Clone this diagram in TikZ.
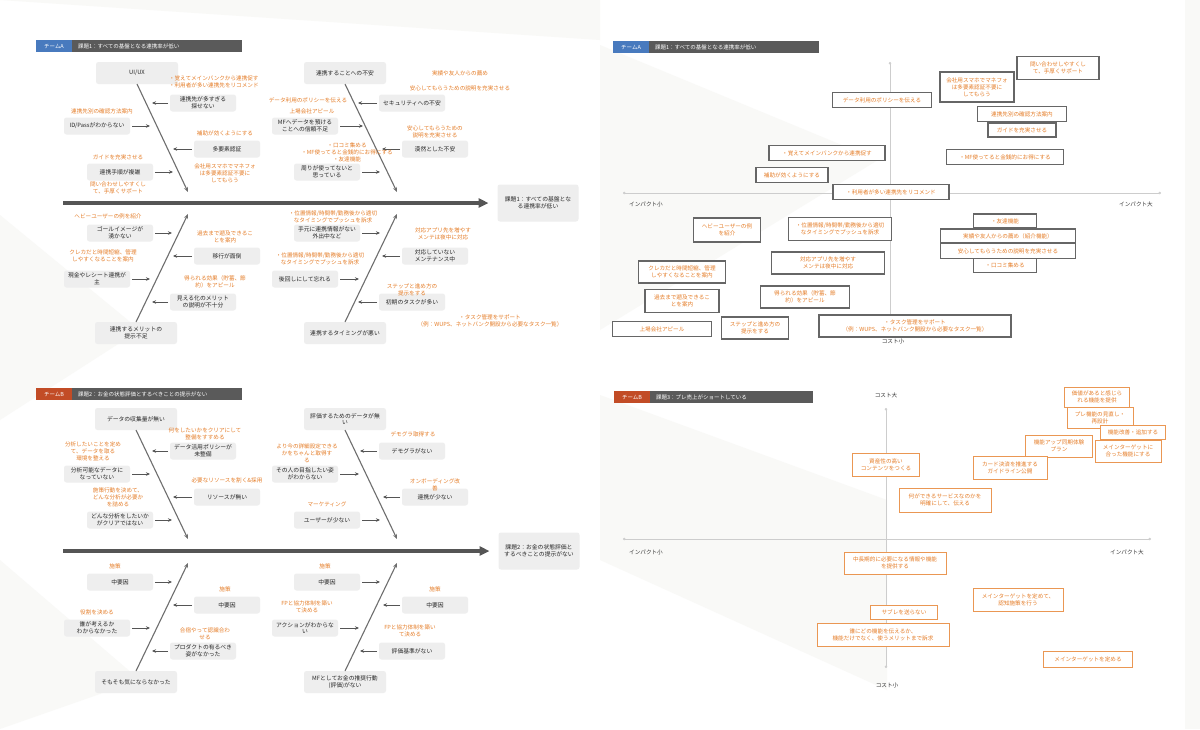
\documentclass[tikz,border=0pt]{standalone}
\usepackage{fontspec}
\setmainfont{Noto Sans CJK JP}
\usetikzlibrary{arrows.meta,positioning}
\definecolor{memoc}{RGB}{229,125,40}
\definecolor{boxc}{RGB}{238,238,238}
\definecolor{bonec}{RGB}{110,110,110}
\definecolor{spinec}{RGB}{85,85,85}
\definecolor{tagblue}{RGB}{72,122,190}
\definecolor{tagred}{RGB}{194,76,38}
\definecolor{barc}{RGB}{90,90,90}
\definecolor{bgc}{RGB}{249,249,247}
\definecolor{axisc}{RGB}{205,205,205}

\begin{document}
\begin{tikzpicture}[x=1pt,y=-1pt,
every node/.style={inner sep=1pt,outer sep=0pt},
cause/.style={fill=boxc,rounded corners=2.5pt,align=center,text=black!85,
  font=\fontsize{5.8}{6.8}\selectfont,minimum width=66pt,minimum height=17pt},
head/.style={cause,minimum width=82pt,minimum height=22pt},
effect/.style={cause,minimum width=81pt,minimum height=37pt},
memo/.style={text=memoc,align=center,font=\fontsize{5.6}{7}\selectfont},
tag/.style={minimum width=36pt,minimum height=12pt,text=white,font=\fontsize{5.5}{6}\selectfont},
hbar/.style={fill=barc,anchor=west,minimum height=12pt,text=white,align=left,
  font=\fontsize{5.5}{6}\selectfont,inner xsep=6pt},
spine/.style={line width=3.2pt,spinec,-{Triangle[length=10pt,width=9pt]},shorten >=9pt},
bone/.style={line width=1.1pt,bonec,-{Stealth[length=5pt,width=4pt]}},
arr/.style={line width=0.9pt,spinec,-{Stealth[length=4pt,width=3.5pt]},shorten <=2pt},
qbox/.style={draw=black!60,line width=1.3pt,fill=white,text=memoc,align=center,
  font=\fontsize{5.6}{7}\selectfont},
pbox/.style={draw=memoc!80,line width=0.8pt,fill=white,text=memoc,align=center,
  font=\fontsize{5.6}{7}\selectfont},
axis/.style={axisc,line width=0.6pt,{Circle[length=2.5pt]}-{Circle[length=2.5pt]}},
axlab/.style={font=\fontsize{5.6}{6}\selectfont,text=black!80}]

\useasboundingbox (0,0) rectangle (1200,729);
\fill[white] (0,0) rectangle (1200,729);
\fill[bgc] (0,0) -- (600,40) -- (600,0) -- cycle;
\fill[bgc] (0,215) -- (140,330) -- (0,420) -- cycle;
\fill[bgc] (0,560) -- (140,680) -- (0,729) -- cycle;
\fill[bgc] (600,45) -- (878,160) -- (600,330) -- cycle;
\fill[bgc] (600,395) -- (887,500) -- (887,690) -- (600,560) -- cycle;
\fill[bgc] (1185,0) rectangle (1200,729);

% headers
\node[tag,fill=tagblue] (T1) at (54,46) {チームA};
\node[hbar,text width=158pt] (H1) at (T1.east) {課題1：すべての基盤となる連携率が低い};
\node[tag,fill=tagred] (T2) at (54,394) {チームB};
\node[hbar,text width=158pt] (H2) at (T2.east) {課題2：お金の状態評価とするべきことの提示がない};
\node[tag,fill=tagblue] (T3) at (631,47) {チームA};
\node[hbar,text width=158pt] (H3) at (T3.east) {課題1：すべての基盤となる連携率が低い};
\node[tag,fill=tagred] (T4) at (632,397) {チームB};
\node[hbar,text width=151pt] (H4) at (T4.east) {課題3：プレ売上がショートしている};

% fishbone 1
\node[head] (F1a) at (137,73) {UI/UX};
\node[head] (F1b) at (345,73) {連携することへの不安};
\node[head] (F1c) at (136,333) {連携するメリットの\\提示不足};
\node[head] (F1d) at (345,333) {連携するタイミングが悪い};
\node[effect] (E1) at (538,203) {課題1：すべての基盤とな\\る連携率が低い};
\coordinate (S1) at (63,203);
\coordinate (J1a) at (188,192);
\coordinate (J1b) at (397,192);
\coordinate (J1c) at (188,214);
\coordinate (J1d) at (397,214);
\draw[spine] (S1) -- (E1.west);
\draw[bone] (F1a.south) -- (J1a);
\draw[bone] (F1b.south) -- (J1b);
\draw[bone] (F1c.north) -- (J1c);
\draw[bone] (F1d.north) -- (J1d);

\node[cause] (A1) at (203,103) {連携先が多すぎる\\探せない};
\node[cause] (A2) at (97,126) {ID/Passがわからない};
\node[cause] (A3) at (227,149) {多要素認証};
\node[cause] (A4) at (120,172) {連携手順が複雑};
\node[cause] (A5) at (412,103) {セキュリティへの不安};
\node[cause] (A6) at (305,126) {MFへデータを預ける\\ことへの信頼不足};
\node[cause] (A7) at (435,149) {漠然とした不安};
\node[cause] (A8) at (327,172) {周りが使ってないと\\思っている};
\node[cause] (A9) at (120,233) {ゴールイメージが\\湧かない};
\node[cause] (A10) at (227,256) {移行が面倒};
\node[cause] (A11) at (97,279) {現金やレシート連携が\\主};
\node[cause] (A12) at (203,302) {見える化のメリット\\の説明が不十分};
\node[cause] (A13) at (327,233) {手元に連携情報がない\\外出中など};
\node[cause] (A14) at (435,256) {対応していない\\メンテナンス中};
\node[cause] (A15) at (305,279) {後回しにして忘れる};
\node[cause] (A16) at (412,302) {初期のタスクが多い};
\coordinate (a1) at (152,103);
\coordinate (a2) at (150,126);
\coordinate (a3) at (173,149);
\coordinate (a4) at (173,172);
\coordinate (a5) at (358,103);
\coordinate (a6) at (363,126);
\coordinate (a7) at (382,149);
\coordinate (a8) at (380,172);
\coordinate (a9) at (172,233);
\coordinate (a10) at (173,256);
\coordinate (a11) at (150,279);
\coordinate (a12) at (152,302);
\coordinate (a13) at (380,233);
\coordinate (a14) at (382,256);
\coordinate (a15) at (359,279);
\coordinate (a16) at (358,302);
\draw[arr] (A1) -- (a1);
\draw[arr] (A2) -- (a2);
\draw[arr] (A3) -- (a3);
\draw[arr] (A4) -- (a4);
\draw[arr] (A5) -- (a5);
\draw[arr] (A6) -- (a6);
\draw[arr] (A7) -- (a7);
\draw[arr] (A8) -- (a8);
\draw[arr] (A9) -- (a9);
\draw[arr] (A10) -- (a10);
\draw[arr] (A11) -- (a11);
\draw[arr] (A12) -- (a12);
\draw[arr] (A13) -- (a13);
\draw[arr] (A14) -- (a14);
\draw[arr] (A15) -- (a15);
\draw[arr] (A16) -- (a16);

\node[memo,align=left,anchor=west] (M1) at (168,82) {・覚えてメインバンクから連携促す\\・利用者が多い連携先をリコメンド};
\node[memo] (M2) at (102,111) {連携先別の確認方法案内};
\node[memo] (M3) at (225,133) {補助が効くようにする};
\node[memo] (M4) at (225,173) {会社用スマホでマネフォ\\は多要素認証不要に\\してもらう};
\node[memo] (M5) at (118,157) {ガイドを充実させる};
\node[memo] (M6) at (118,188) {問い合わせしやすくし\\て、手厚くサポート};
\node[memo] (M7) at (460,73) {実績や友人からの薦め};
\node[memo] (M8) at (460,88) {安心してもらうための説明を充実させる};
\node[memo] (M9) at (308,100) {データ利用のポリシーを伝える};
\node[memo] (M10) at (312,111) {上場会社アピール};
\node[memo] (M11) at (435,132) {安心してもらうための\\説明を充実させる};
\node[memo] (M12) at (347,152) {・口コミ集める\\・MF使ってると金銭的にお得にする\\・友達機能};
\node[memo] (M13) at (108,216) {ヘビーユーザーの例を紹介};
\node[memo] (M14) at (225,237) {過去まで遡及できるこ\\とを案内};
\node[memo] (M15) at (103,256) {クレカだと時間短縮、管理\\しやすくなることを案内};
\node[memo] (M16) at (215,282) {得られる効果（貯蓄、節\\約）をアピール};
\node[memo] (M17) at (333,217) {・位置情報/時間帯/勤務後から適切\\なタイミングでプッシュを訴求};
\node[memo] (M18) at (443,234) {対応アプリ先を増やす\\メンテは夜中に対応};
\node[memo] (M19) at (320,259) {・位置情報/時間帯/勤務後から適切\\なタイミングでプッシュを訴求};
\node[memo] (M20) at (412,290) {ステップと進め方の\\提示をする};
\node[memo] (M21) at (490,321) {・タスク管理をサポート\\（例：WUPS、ネットバンク開設から必要なタスク一覧）};

% fishbone 2
\node[head] (F2a) at (136,419) {データの収集量が無い};
\node[head] (F2b) at (345,419) {評価するためのデータが無\\い};
\node[head] (F2c) at (136,682) {そもそも気にならなかった};
\node[head] (F2d) at (345,682) {MFとしてお金の推奨行動\\(評価)がない};
\node[effect] (E2) at (539,551) {課題2：お金の状態評価と\\するべきことの提示がない};
\coordinate (S2) at (63,551);
\coordinate (J2a) at (188,539);
\coordinate (J2b) at (397,539);
\coordinate (J2c) at (188,563);
\coordinate (J2d) at (397,563);
\draw[spine] (S2) -- (E2.west);
\draw[bone] (F2a.south) -- (J2a);
\draw[bone] (F2b.south) -- (J2b);
\draw[bone] (F2c.north) -- (J2c);
\draw[bone] (F2d.north) -- (J2d);

\node[cause] (B1) at (203,451) {データ活用ポリシーが\\未整備};
\node[cause] (B2) at (97,474) {分析可能なデータに\\なっていない};
\node[cause] (B3) at (227,497) {リソースが無い};
\node[cause] (B4) at (120,520) {どんな分析をしたいか\\がクリアではない};
\node[cause] (B5) at (412,451) {デモグラがない};
\node[cause] (B6) at (305,474) {その人の目指したい姿\\がわからない};
\node[cause] (B7) at (435,497) {連携が少ない};
\node[cause] (B8) at (327,520) {ユーザーが少ない};
\node[cause] (B9) at (120,582) {中要因};
\node[cause] (B10) at (227,605) {中要因};
\node[cause] (B11) at (97,628) {誰が考えるか\\わからなかった};
\node[cause] (B12) at (203,651) {プロダクトの有るべき\\姿がなかった};
\node[cause] (B13) at (327,582) {中要因};
\node[cause] (B14) at (435,605) {中要因};
\node[cause] (B15) at (305,628) {アクションがわからな\\い};
\node[cause] (B16) at (412,651) {評価基準がない};
\coordinate (b1) at (152,451);
\coordinate (b2) at (150,474);
\coordinate (b3) at (173,497);
\coordinate (b4) at (172,520);
\coordinate (b5) at (360,451);
\coordinate (b6) at (359,474);
\coordinate (b7) at (383,497);
\coordinate (b8) at (380,520);
\coordinate (b9) at (172,582);
\coordinate (b10) at (173,605);
\coordinate (b11) at (150,628);
\coordinate (b12) at (152,651);
\coordinate (b13) at (380,582);
\coordinate (b14) at (383,605);
\coordinate (b15) at (359,628);
\coordinate (b16) at (360,651);
\draw[arr] (B1) -- (b1);
\draw[arr] (B2) -- (b2);
\draw[arr] (B3) -- (b3);
\draw[arr] (B4) -- (b4);
\draw[arr] (B5) -- (b5);
\draw[arr] (B6) -- (b6);
\draw[arr] (B7) -- (b7);
\draw[arr] (B8) -- (b8);
\draw[arr] (B9) -- (b9);
\draw[arr] (B10) -- (b10);
\draw[arr] (B11) -- (b11);
\draw[arr] (B12) -- (b12);
\draw[arr] (B13) -- (b13);
\draw[arr] (B14) -- (b14);
\draw[arr] (B15) -- (b15);
\draw[arr] (B16) -- (b16);

\node[memo] (N1) at (205,434) {何をしたいかをクリアにして\\整備をすすめる};
\node[memo] (N2) at (93,451) {分析したいことを定め\\て、データを取る\\環境を整える};
\node[memo] (N3) at (227,480) {必要なリソースを割く\&採用};
\node[memo] (N4) at (118,497) {施策行動を決めて、\\どんな分析が必要か\\を詰める};
\node[memo] (N5) at (413,434) {デモグラ取得する};
\node[memo] (N6) at (307,453) {より今の詳細設定できる\\かをちゃんと取得す\\る};
\node[memo] (N7) at (435,485) {オンボーディング改\\善};
\node[memo] (N8) at (327,504) {マーケティング};
\node[memo] (N9) at (115,566) {施策};
\node[memo] (N10) at (225,589) {施策};
\node[memo] (N11) at (97,612) {役割を決める};
\node[memo] (N12) at (205,634) {合宿やって認識合わ\\せる};
\node[memo] (N13) at (325,566) {施策};
\node[memo] (N14) at (435,589) {施策};
\node[memo] (N15) at (307,607) {FPと協力体制を築い\\て決める};
\node[memo] (N16) at (410,631) {FPと協力体制を築い\\て決める};

% matrix 1
\coordinate (X1l) at (623,193);
\coordinate (X1r) at (1161,193);
\coordinate (Y1t) at (890,62);
\coordinate (Y1b) at (890,335);
\draw[axis] (X1l) -- (X1r);
\draw[axis] (Y1t) -- (Y1b);
\node[axlab] (L1l) at (646,204) {インパクト小};
\node[axlab] (L1r) at (1136,204) {インパクト大};
\node[axlab] (L1b) at (893,341) {コスト小};

\node[qbox,minimum width=82,minimum height=23] (Q1) at (1058,68) {問い合わせしやすくし\\て、手厚くサポート};
\node[qbox,minimum width=74,minimum height=30] (Q2) at (977,87) {会社用スマホでマネフォ\\は多要素認証不要に\\してもらう};
\node[qbox,minimum width=99,minimum height=15] (Q3) at (882,100) {データ利用のポリシーを伝える};
\node[qbox,minimum width=89,minimum height=15] (Q4) at (1022,114) {連携先別の確認方法案内};
\node[qbox,minimum width=68,minimum height=14] (Q5) at (1022,130) {ガイドを充実させる};
\node[qbox,minimum width=116,minimum height=15] (Q6) at (827,153) {・覚えてメインバンクから連携促す};
\node[qbox,minimum width=117,minimum height=15] (Q7) at (1005,157) {・MF使ってると金銭的にお得にする};
\node[qbox,minimum width=72,minimum height=15] (Q8) at (792,175) {補助が効くようにする};
\node[qbox,minimum width=116,minimum height=15] (Q9) at (891,192) {・利用者が多い連携先をリコメンド};
\node[qbox,minimum width=67,minimum height=24] (Q10) at (727,230) {ヘビーユーザーの例\\を紹介};
\node[qbox,minimum width=103,minimum height=23] (Q11) at (840,229) {・位置情報/時間帯/勤務後から適切\\なタイミングでプッシュを訴求};
\node[qbox,minimum width=63,minimum height=14] (Q12) at (1005,221) {・友達機能};
\node[qbox,minimum width=63,minimum height=15] (Q15) at (1005,265) {・口コミ集める};
\node[qbox,minimum width=135,minimum height=14] (Q13) at (1008,236) {実績や友人からの薦め（紹介機能）};
\node[qbox,minimum width=135,minimum height=15] (Q14) at (1008,251) {安心してもらうための説明を充実させる};
\node[qbox,minimum width=87,minimum height=22] (Q16) at (682,272) {クレカだと時間短縮、管理\\しやすくなることを案内};
\node[qbox,minimum width=113,minimum height=22] (Q17) at (828,263) {対応アプリ先を増やす\\メンテは夜中に対応};
\node[qbox,minimum width=74,minimum height=23] (Q18) at (682,301) {過去まで遡及できるこ\\とを案内};
\node[qbox,minimum width=89,minimum height=22] (Q19) at (805,297) {得られる効果（貯蓄、節\\約）をアピール};
\node[qbox,minimum width=99,minimum height=15] (Q20) at (662,329) {上場会社アピール};
\node[qbox,minimum width=67,minimum height=22] (Q21) at (755,328) {ステップと進め方の\\提示をする};
\node[qbox,minimum width=192,minimum height=22] (Q22) at (915,326) {・タスク管理をサポート\\（例：WUPS、ネットバンク開設から必要なタスク一覧）};

% matrix 2
\coordinate (X2l) at (623,539);
\coordinate (X2r) at (1151,539);
\coordinate (Y2t) at (886,408);
\coordinate (Y2b) at (886,668);
\draw[axis] (X2l) -- (X2r);
\draw[axis] (Y2t) -- (Y2b);
\node[axlab] (L2t) at (886,395) {コスト大};
\node[axlab] (L2l) at (646,552) {インパクト小};
\node[axlab] (L2r) at (1127,552) {インパクト大};
\node[axlab] (L2b) at (887,685) {コスト小};

\node[pbox,minimum width=65,minimum height=20] (P1) at (1097,397) {価値があると感じら\\れる機能を提供};
\node[pbox,minimum width=66,minimum height=21] (P2) at (1100,418) {プレ機能の見直し・\\再設計};
\node[pbox,minimum width=67,minimum height=22] (P4) at (1059,446) {機能アップ同期体験\\プラン};
\node[pbox,minimum width=65,minimum height=14] (P3) at (1133,432) {機能改善・追加する};
\node[pbox,minimum width=66,minimum height=22] (P5) at (1128,451) {メインターゲットに\\合った機能にする};
\node[pbox,minimum width=67,minimum height=23] (P6) at (886,465) {資産性の高い\\コンテンツをつくる};
\node[pbox,minimum width=74,minimum height=23] (P7) at (1010,468) {カード決済を推進する\\ガイドライン公開};
\node[pbox,minimum width=92,minimum height=24] (P8) at (945,500) {何ができるサービスなのかを\\明確にして、伝える};
\node[pbox,minimum width=102,minimum height=22] (P9) at (895,563) {中長期的に必要になる情報や機能\\を提供する};
\node[pbox,minimum width=90,minimum height=23] (P10) at (1018,600) {メインターゲットを定めて、\\認知施策を行う};
\node[pbox,minimum width=67,minimum height=14] (P11) at (904,612) {サブレを送らない};
\node[pbox,minimum width=132,minimum height=23] (P12) at (883,635) {誰にどの機能を伝えるか、\\機能だけでなく、使うメリットまで訴求};
\node[pbox,minimum width=89,minimum height=16] (P13) at (1088,659) {メインターゲットを定める};
\end{tikzpicture}
\end{document}
